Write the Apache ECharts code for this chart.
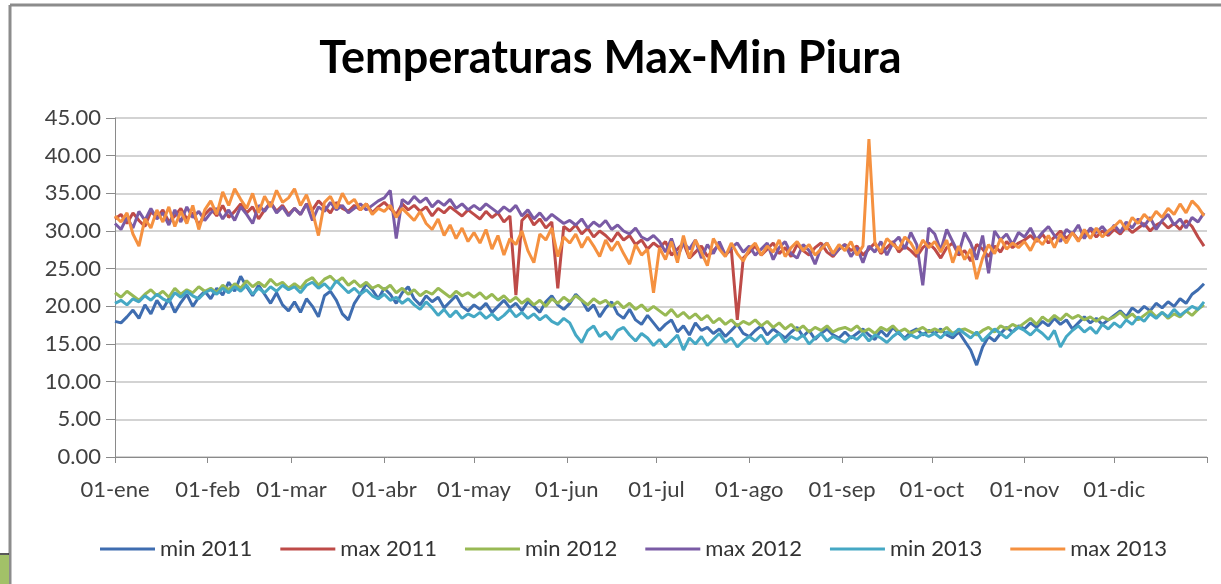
<!DOCTYPE html>
<html>
<head>
<meta charset="utf-8">
<title>Temperaturas Max-Min Piura</title>
<script src="https://cdn.jsdelivr.net/npm/echarts@6/dist/echarts.min.js"></script>
<style>
  html, body { margin: 0; padding: 0; background: #fff; }
  #chart-container { width: 1221px; height: 584px; }
</style>
</head>
<body>
<div id="chart-container"></div>
<script>
// one reading every 2 days (day 0 = 01-ene)
var DAY_STEP = 2;

var monthLabels = ['01-ene', '01-feb', '01-mar', '01-abr', '01-may', '01-jun',
                   '01-jul', '01-ago', '01-sep', '01-oct', '01-nov', '01-dic'];
var monthStartDays = [0, 31, 59, 90, 120, 151, 181, 212, 243, 273, 304, 334];
var yearDays = 365;

var seriesNames = ['min 2011', 'max 2011', 'min 2012', 'max 2012', 'min 2013', 'max 2013'];

var min2011 = [
  18.0, 17.8, 18.6, 19.5, 18.4, 20.2, 19.0, 20.8, 19.6, 21.0, 19.2, 20.5, 21.6, 20.0, 21.2, 22.0,
  21.0, 22.4, 21.5, 23.2, 22.0, 24.0, 22.6, 21.4, 22.8, 21.6, 20.4, 21.8, 20.2, 19.4,
  20.6, 19.2, 21.0, 20.0, 18.6, 21.4, 22.0, 20.8, 19.0, 18.2, 20.4, 21.6, 23.0, 22.2, 21.0,
  22.4, 21.6, 20.4, 21.8, 22.6, 21.0, 20.2, 21.4, 20.6, 21.2, 19.8, 20.6, 21.4, 20.0, 19.4,
  20.2, 19.6, 20.4, 19.2, 20.0, 20.8, 19.8, 20.4, 19.4, 20.6, 20.0, 19.2, 20.6, 21.4, 20.2, 19.6,
  20.4, 21.6, 20.8, 19.4, 20.2, 18.6, 19.8, 20.6, 19.0, 18.4, 19.6, 18.2, 17.6, 18.8, 17.8,
  16.8, 17.6, 18.2, 16.6, 17.4, 16.2, 17.8, 16.8, 17.2, 16.4, 17.0, 16.0, 16.8, 17.6, 16.4,
  16.0, 16.8, 17.4, 16.2, 17.0, 16.4, 15.8, 16.6, 17.2, 16.0, 16.8, 15.6, 16.4, 17.0, 16.2, 15.8,
  16.6, 15.8, 16.4, 17.0, 16.2, 15.6, 16.8, 16.0, 17.2, 16.4, 15.8, 16.6, 17.0, 16.2, 16.8,
  16.4, 17.0, 16.2, 15.8, 16.6, 15.4, 14.2, 12.2, 14.6, 16.0, 15.4, 16.4, 17.2, 16.6, 17.4,
  17.0, 17.8, 17.2, 18.0, 17.4, 18.4, 17.6, 18.2, 17.0, 17.8, 18.6, 17.8, 18.4, 17.6, 18.2,
  18.8, 19.4, 18.6, 19.8, 19.2, 20.0, 19.4, 20.4, 19.8, 20.6, 20.0, 21.0, 20.4, 21.6, 22.2, 23.0
];

var max2011 = [
  31.6, 32.2, 31.0, 32.4, 31.4, 30.6, 32.6, 31.8, 32.8, 31.2, 32.0, 33.0, 31.6, 32.4, 30.8, 32.2,
  33.0, 32.0, 33.4, 31.8, 32.6, 33.6, 32.4, 33.2, 31.6, 32.8, 33.8, 32.6, 33.4, 32.2,
  33.0, 32.2, 33.6, 32.8, 34.0, 33.2, 32.4, 33.8, 33.0, 32.6, 33.4, 32.8, 33.6, 32.4, 33.2,
  33.8, 33.0, 32.2, 33.6, 32.8, 33.4, 32.6, 33.2, 32.0, 33.0, 32.4, 33.2, 32.6, 32.0, 32.8,
  32.2, 31.6, 32.6, 31.8, 32.4, 31.2, 32.0, 21.5, 31.4, 32.2, 30.8, 31.6, 30.4, 31.2, 22.4, 30.6,
  30.0, 30.8, 29.6, 30.4, 29.2, 30.0, 29.4, 28.6, 29.8, 28.8, 29.4, 28.2, 28.8, 27.6, 28.4,
  27.8, 28.6, 26.8, 27.6, 28.4, 26.4, 27.2, 28.0, 26.6, 27.4, 28.2, 26.8, 27.6, 18.2, 26.4,
  27.2, 28.0, 26.8, 27.6, 28.4, 27.0, 27.8, 26.6, 28.2, 27.4, 26.8, 27.8, 28.4, 27.2, 26.6, 27.6,
  28.2, 27.4, 28.0, 26.8, 27.6, 28.4, 27.0, 27.8, 28.6, 27.2, 28.0, 27.4, 26.6, 27.8, 28.4,
  27.6, 26.4, 27.8, 28.4, 26.8, 27.4, 26.0, 28.2, 27.6, 26.6, 28.0, 27.2, 28.6, 27.8, 28.4,
  28.8, 29.4, 28.6, 29.6, 28.4, 29.2, 30.0, 29.0, 29.8, 28.8, 29.6, 30.2, 29.2, 30.0, 29.4,
  30.2, 29.6, 30.6, 29.8, 30.4, 31.0, 30.0, 30.8, 31.2, 30.4, 31.0, 30.2, 31.4, 30.6, 29.2, 28.0
];

var min2012 = [
  21.8, 21.2, 22.0, 21.4, 20.8, 21.6, 22.2, 21.4, 22.0, 21.2, 22.4, 21.6, 22.2, 21.8, 22.6, 22.0,
  22.4, 21.8, 22.8, 22.2, 23.0, 22.4, 23.4, 22.6, 23.2, 22.6, 23.6, 22.8, 23.2, 22.4,
  23.0, 22.4, 23.4, 23.8, 22.8, 23.6, 24.0, 23.2, 23.8, 22.8, 23.4, 22.6, 23.2, 22.4, 22.8,
  22.2, 22.8, 21.8, 22.4, 21.6, 22.2, 21.4, 22.0, 21.6, 22.4, 21.8, 21.2, 22.0, 21.4, 21.8,
  21.2, 21.8, 21.0, 21.6, 20.8, 21.4, 20.6, 21.2, 20.4, 21.0, 20.2, 20.8, 20.0, 21.0, 20.4, 21.2,
  20.6, 21.4, 20.8, 20.2, 21.0, 20.4, 20.8, 20.0, 20.6, 19.8, 20.4, 19.6, 20.2, 19.4, 20.0,
  19.4, 18.8, 19.6, 18.6, 19.2, 18.4, 19.0, 18.2, 18.8, 17.8, 18.4, 17.6, 18.2, 17.4, 18.0,
  17.6, 18.2, 17.4, 18.0, 17.2, 17.8, 17.0, 17.6, 16.8, 17.4, 16.6, 17.2, 16.8, 17.4, 16.6, 17.0,
  17.2, 16.8, 17.4, 16.6, 17.0, 16.4, 17.2, 16.8, 17.4, 16.6, 17.0, 16.4, 16.8, 17.2, 16.6,
  17.0, 16.6, 17.2, 16.4, 16.8, 17.0, 16.6, 16.2, 16.8, 17.2, 16.6, 17.4, 17.0, 17.6, 17.2,
  17.8, 18.4, 17.6, 18.6, 18.0, 18.8, 18.2, 19.0, 18.4, 18.8, 18.2, 18.6, 18.0, 18.6, 18.2,
  18.6, 19.2, 18.4, 19.0, 18.2, 18.8, 19.4, 18.6, 19.2, 18.4, 19.0, 18.6, 19.4, 18.8, 19.6, 20.2
];

var max2012 = [
  31.0, 30.2, 31.8, 30.4, 32.6, 31.4, 33.0, 31.6, 32.4, 30.8, 32.8, 31.2, 33.2, 31.8, 32.6, 31.4,
  32.4, 33.0, 31.6, 32.8, 31.4, 33.2, 32.2, 31.0, 33.4, 32.6, 33.8, 32.4, 33.2, 32.0,
  33.0, 32.2, 33.6, 31.4, 33.2, 32.6, 33.8, 32.8, 33.4, 32.4, 33.0, 33.6, 32.8, 33.4, 34.0,
  34.4, 35.4, 29.0, 34.2, 33.6, 34.6, 33.8, 34.4, 33.2, 34.0, 33.4, 34.2, 33.0, 33.6, 32.8,
  33.4, 32.8, 33.6, 33.0, 32.4, 33.2, 32.6, 33.4, 32.0, 32.8, 31.6, 32.4, 31.4, 32.2, 31.6, 31.0,
  31.4, 30.8, 31.6, 30.4, 31.2, 30.6, 31.4, 30.2, 30.8, 30.0, 29.6, 30.4, 29.2, 28.8, 29.4,
  28.6, 27.2, 29.0, 26.6, 28.4, 27.6, 28.8, 26.4, 28.2, 27.0, 28.6, 26.8, 27.8, 28.4, 27.2,
  28.0, 26.8, 27.6, 28.4, 26.2, 27.8, 28.6, 27.0, 26.4, 28.2, 27.4, 25.6, 27.8, 28.4, 26.8, 27.6,
  28.2, 26.6, 27.8, 25.8, 28.0, 27.2, 28.6, 26.8, 28.4, 29.2, 27.6, 29.8, 28.2, 22.8, 30.4,
  29.6, 27.4, 30.2, 28.6, 27.0, 29.8, 28.4, 26.2, 29.4, 24.4, 30.0, 28.8, 29.6, 28.2, 29.8,
  29.2, 30.4, 28.8, 29.8, 30.6, 29.4, 28.6, 30.2, 29.6, 30.8, 29.0, 30.4, 29.8, 30.6, 29.6,
  30.8, 29.8, 31.2, 30.4, 31.6, 30.6, 31.8, 30.2, 31.4, 32.2, 30.8, 31.6, 30.4, 31.8, 31.2, 32.4
];

var min2013 = [
  20.4, 20.8, 20.2, 21.0, 20.6, 21.4, 20.8, 21.6, 21.0, 20.6, 21.8, 21.2, 22.0, 21.4, 21.0, 21.8,
  22.2, 21.6, 22.4, 21.8, 22.6, 22.0, 22.8, 21.6, 22.4, 21.8, 22.6, 22.0, 22.8, 22.2,
  22.6, 21.8, 22.8, 23.2, 22.4, 23.0, 22.2, 23.4, 22.6, 21.8, 22.4, 21.6, 22.2, 21.4, 21.0,
  21.6, 20.8, 21.2, 20.4, 21.0, 20.2, 19.6, 20.6, 19.8, 18.8, 19.6, 18.6, 19.4, 18.4, 19.0,
  18.6, 19.2, 18.4, 19.0, 18.2, 18.8, 19.6, 18.6, 19.2, 18.4, 19.0, 18.2, 18.8, 18.0, 17.6, 18.4,
  17.8, 16.2, 15.2, 16.8, 17.4, 16.0, 16.6, 15.6, 16.8, 17.2, 16.2, 15.4, 16.4, 15.8, 14.8,
  15.6, 14.6, 15.4, 16.2, 14.2, 15.8, 15.0, 16.0, 14.8, 15.6, 16.4, 15.2, 15.8, 14.6, 15.4,
  16.0, 15.4, 16.2, 15.0, 15.8, 16.4, 15.2, 16.0, 15.6, 16.2, 15.0, 15.8, 16.4, 15.4, 16.0, 15.6,
  15.2, 16.0, 15.6, 16.4, 15.4, 16.2, 15.8, 15.2, 16.0, 16.6, 15.6, 16.2, 15.8, 16.4, 16.0,
  16.4, 15.8, 16.6, 16.2, 17.0, 16.4, 15.8, 16.6, 15.4, 16.2, 17.0, 16.4, 15.8, 16.6, 17.2,
  16.8, 16.2, 17.0, 16.4, 15.6, 16.8, 14.6, 16.0, 16.8, 17.4, 16.6, 17.2, 16.4, 17.6, 17.0,
  17.8, 17.2, 18.2, 17.6, 18.6, 18.0, 19.0, 18.4, 19.2, 18.6, 19.6, 18.8, 19.4, 20.0, 19.6, 20.6
];

var max2013 = [
  32.0, 31.2, 32.4, 29.6, 28.0, 31.6, 30.4, 32.8, 31.2, 33.2, 30.6, 32.6, 31.0, 33.4, 30.2, 32.8,
  34.0, 32.2, 35.2, 33.4, 35.6, 34.2, 33.0, 35.0, 32.4, 34.6, 33.2, 35.4, 33.8, 34.4,
  35.6, 33.4, 34.8, 32.6, 29.4, 33.8, 34.6, 33.0, 35.0, 33.6, 34.2, 32.8, 33.6, 32.2, 33.0,
  32.6, 33.4, 31.8, 33.0, 32.2, 31.4, 32.6, 31.0, 30.2, 31.6, 29.4, 30.8, 29.0, 30.4, 28.6,
  29.8, 28.4, 30.2, 27.6, 29.4, 26.8, 29.0, 28.2, 30.0, 27.4, 25.8, 29.6, 28.8, 30.4, 26.6, 29.2,
  28.4, 29.6, 27.8, 29.2, 28.0, 26.6, 28.8, 27.4, 28.6, 27.0, 25.6, 28.2, 26.8, 27.6, 21.8,
  27.8, 26.2, 28.6, 25.8, 29.4, 26.4, 28.8, 27.2, 25.4, 29.0, 27.6, 26.6, 28.4, 27.0, 26.0,
  27.6, 28.4, 26.8, 28.0, 27.2, 28.8, 26.6, 27.8, 28.6, 27.4, 28.2, 26.8, 27.6, 28.4, 27.0, 28.2,
  27.4, 28.6, 26.8, 28.0, 42.2, 28.4, 27.2, 29.0, 28.2, 27.6, 29.2, 28.4, 27.0, 28.8, 27.8,
  28.6, 27.2, 28.8, 25.8, 28.0, 26.2, 27.6, 23.6, 26.4, 28.2, 27.0, 29.0, 27.6, 28.4, 27.8,
  28.6, 27.4, 29.0, 28.2, 29.4, 27.8, 29.6, 28.4, 29.8, 28.6, 30.2, 29.0, 30.4, 29.2, 30.0,
  30.6, 31.4, 30.2, 31.8, 31.0, 32.2, 31.4, 32.6, 31.8, 33.0, 32.2, 33.6, 32.4, 34.0, 33.2, 32.0
];

var yTicks = [0, 5, 10, 15, 20, 25, 30, 35, 40, 45];

var seriesValues = [min2011, max2011, min2012, max2012, min2013, max2013];
var seriesColors = ['#3F6DB0', '#BE4B48', '#98B954', '#7A5BA5', '#45A8C4', '#F59140'];

var chartDom = document.getElementById('chart-container');
var myChart = echarts.init(chartDom);
var option;

var FONT = 'Lato, "Open Sans", sans-serif';

option = {
  backgroundColor: '#fff',
  animation: false,
  title: {
    text: 'Temperaturas Max-Min Piura',
    left: 'center',
    top: 31,
    textStyle: { fontFamily: FONT, fontSize: 45, fontWeight: 'bold', color: '#000' }
  },
  graphic: [
    // slide frame around the chart
    { type: 'line', shape: { x1: 10, y1: 5, x2: 10, y2: 584 }, style: { stroke: '#8c8c8c', lineWidth: 3 } },
    { type: 'line', shape: { x1: 10, y1: 5, x2: 1221, y2: 5 }, style: { stroke: '#8c8c8c', lineWidth: 3 } },
    { type: 'rect', shape: { x: 0, y: 555, width: 9, height: 29 }, style: { fill: '#A2C168' } },
    { type: 'line', shape: { x1: 0, y1: 554, x2: 9, y2: 554 }, style: { stroke: '#222', lineWidth: 1.5 } }
  ],
  legend: {
    top: 533,
    left: 95,
    icon: 'rect',
    itemWidth: 55,
    itemHeight: 3,
    itemGap: 28,
    textStyle: { fontFamily: FONT, fontSize: 22, color: '#333' },
    data: seriesNames
  },
  grid: {
    left: 115,
    right: 14,
    top: 118,
    bottom: 127
  },
  xAxis: {
    type: 'value',
    min: 0,
    max: yearDays,
    axisLine: { show: true, lineStyle: { color: '#8a8a8a', width: 1 } },
    axisTick: {
      show: true,
      length: 6,
      customValues: monthStartDays.concat([yearDays]),
      lineStyle: { color: '#8a8a8a' }
    },
    axisLabel: {
      customValues: monthStartDays,
      margin: 22,
      fontFamily: FONT,
      fontSize: 22,
      color: '#404040',
      formatter: function (v) {
        var i = monthStartDays.indexOf(v);
        return i >= 0 ? monthLabels[i] : '';
      }
    },
    splitLine: { show: false }
  },
  yAxis: {
    type: 'value',
    min: yTicks[0],
    max: yTicks[yTicks.length - 1],
    interval: 5,
    axisLine: { show: true, lineStyle: { color: '#8a8a8a', width: 1 } },
    axisTick: { show: true, length: 9, lineStyle: { color: '#8a8a8a' } },
    axisLabel: {
      margin: 14,
      fontFamily: FONT,
      fontSize: 22,
      color: '#404040',
      formatter: function (v) { return v.toFixed(2); }
    },
    splitLine: { show: true, lineStyle: { color: '#c4c4c4', width: 1.5 } }
  },
  series: seriesNames.map(function (name, k) {
    return {
      name: name,
      type: 'line',
      showSymbol: false,
      color: seriesColors[k],
      lineStyle: { width: 3, color: seriesColors[k] },
      data: seriesValues[k].map(function (v, i) { return [i * DAY_STEP, v]; })
    };
  })
};

option && myChart.setOption(option);
</script>
</body>
</html>
